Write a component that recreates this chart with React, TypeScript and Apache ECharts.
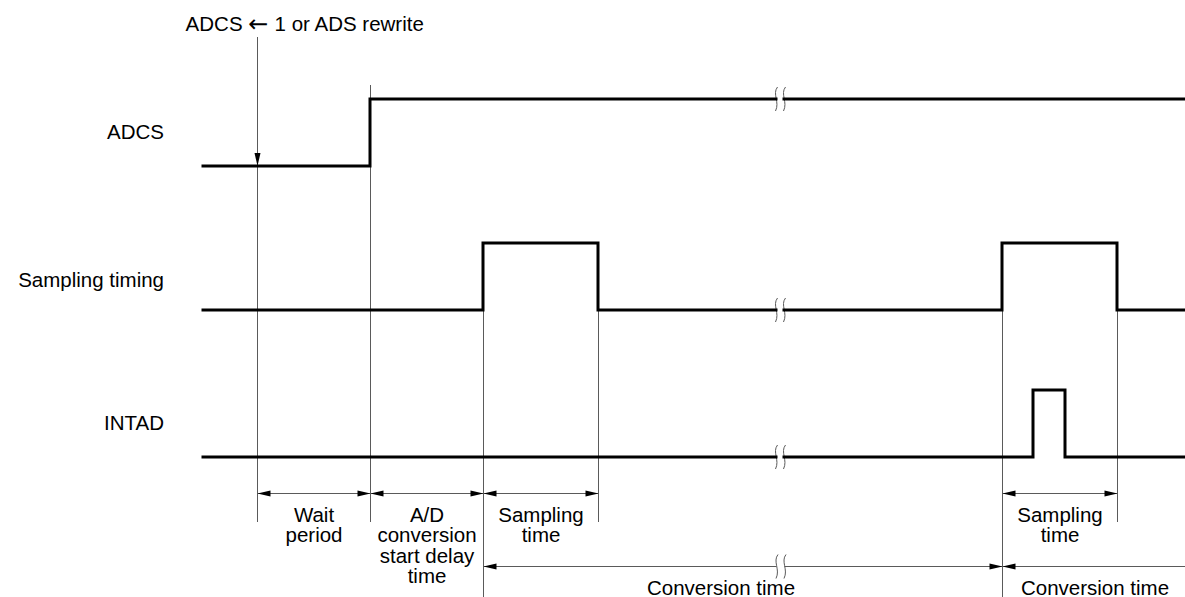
import React, { useEffect, useRef } from "react";
import * as echarts from "echarts";

// ---------- data (time units along the diagram, levels 0/1) ----------
const TIME_END = 982;
const BREAK_GAP = [573, 581];
const WRITE_TIME = 54;
const adcsEdges: number[][] = [[0, 0], [167, 1]];
const samplingEdges: number[][] = [[0, 0], [280, 1], [395, 0], [799, 1], [914, 0]];
const intadEdges: number[][] = [[0, 0], [830, 1], [862, 0]];
const signalNames = ["ADCS", "Sampling timing", "INTAD"];
const topLabelParts = ["ADCS", "\u2190", "1 or ADS rewrite"];
const waitLabel = "Wait\nperiod";
const delayLabel = "A/D\nconversion\nstart delay\ntime";
const samplingLabel = "Sampling\ntime";
const conversionLabel = "Conversion time";

// ---------- layout / style ----------
const W = 1185;
const H = 597;
const PLOT_LEFT = 203;
const ROW_TOPS = [99, 243, 390];
const ROW_H = 67;
const LABEL_RIGHT = 164;
const LABEL_Y = [131, 279, 422];
const FONT = "Liberation Sans, Arial, Helvetica, sans-serif";
const FS = 20.5;
const LH = 20.4;
const THIN = "#5a5a5a";
const ARROW_ROW_A = 493;
const ARROW_ROW_B = 566;
const TEXT_TOP_A = 504;
const TEXT_MID_B = 587;

function levelAt(edges: number[][], t: number) {
  let v = edges[0][1];
  for (const [et, ev] of edges) if (et <= t) v = ev;
  return v;
}
function toPoints(edges: number[][]) {
  const pts: number[][] = [];
  edges.forEach(([t, v], i) => {
    if (i > 0) pts.push([t, edges[i - 1][1]]);
    pts.push([t, v]);
  });
  pts.push([TIME_END, edges[edges.length - 1][1]]);
  return pts;
}
function splitAtBreak(edges: number[][]) {
  const pts = toPoints(edges);
  const a = pts.filter((p) => p[0] <= BREAK_GAP[0]);
  a.push([BREAK_GAP[0], levelAt(edges, BREAK_GAP[0])]);
  const b = [[BREAK_GAP[1], levelAt(edges, BREAK_GAP[1])]].concat(pts.filter((p) => p[0] >= BREAK_GAP[1]));
  return [a, b];
}

function breakCurve(x: number, y: number) {
  return {
    type: "bezierCurve",
    shape: { x1: x + 1.5, y1: y - 12, cpx1: x - 4, cpy1: y - 5, cpx2: x + 4, cpy2: y + 3, x2: x - 0.5, y2: y + 12 },
    style: { stroke: THIN, lineWidth: 1, fill: null },
  };
}
function head(x: number, y: number, dir: number) {
  const bx = x - dir * 13;
  return {
    type: "polygon",
    shape: { points: [[x, y], [bx, y - 3], [bx, y + 3]] },
    style: { fill: "#000" },
  };
}
function txt(x: number, y: number, text: string, va: string) {
  return {
    type: "text",
    x,
    y,
    style: {
      text,
      fill: "#000",
      fontSize: FS,
      fontFamily: FONT,
      align: "center",
      verticalAlign: va,
      textAlign: "center",
      textVerticalAlign: va,
      lineHeight: LH,
    },
  };
}

export default function App() {
  const ref = useRef<HTMLDivElement>(null);
  useEffect(() => {
    if (!ref.current) return;
    const chart = echarts.init(ref.current, null, { renderer: "svg" });
    const signals = [adcsEdges, samplingEdges, intadEdges];

    const grids = ROW_TOPS.map((top) => ({ left: PLOT_LEFT, right: 0, top, height: ROW_H }));
    const xAxes = ROW_TOPS.map((_, i) => ({ type: "value", gridIndex: i, min: 0, max: TIME_END, show: false }));
    const yAxes = ROW_TOPS.map((_, i) => ({ type: "value", gridIndex: i, min: 0, max: 1, show: false }));

    const series: any[] = [];
    signals.forEach((edges, i) => {
      splitAtBreak(edges).forEach((seg) => {
        series.push({
          type: "line",
          xAxisIndex: i,
          yAxisIndex: i,
          data: seg,
          symbol: "none",
          clip: false,
          z: 3,
          lineStyle: { color: "#000", width: 3, cap: "square", join: "miter" },
        });
      });
      series.push({
        type: "custom",
        xAxisIndex: i,
        yAxisIndex: i,
        z: 2,
        silent: true,
        clip: false,
        data: [[BREAK_GAP[0], levelAt(edges, BREAK_GAP[0]), BREAK_GAP[1]]],
        renderItem: (params: any, api: any) => {
          const p0 = api.coord([api.value(0), api.value(1)]);
          const p1 = api.coord([api.value(2), api.value(1)]);
          return { type: "group", children: [breakCurve(p0[0], p0[1]), breakCurve(p1[0], p1[1])] };
        },
      });
    });

    const adcsRise = adcsEdges[1][0];
    const s1a = samplingEdges[1][0];
    const s1b = samplingEdges[2][0];
    const s2a = samplingEdges[3][0];
    const s2b = samplingEdges[4][0];

    series.push({
      type: "custom",
      xAxisIndex: 0,
      yAxisIndex: 0,
      z: 1,
      silent: true,
      clip: false,
      data: [[0, 0]],
      renderItem: (params: any, api: any) => {
        const X = (t: number) => Math.round(api.coord([t, 0])[0]) + 0.5;
        const ch: any[] = [];
        const verticals = [
          { t: WRITE_TIME, top: 37, bottom: 522 },
          { t: adcsRise, top: 85, bottom: 522 },
          { t: s1a, top: 243, bottom: 597 },
          { t: s1b, top: 243, bottom: 522 },
          { t: s2a, top: 243, bottom: 597 },
          { t: s2b, top: 243, bottom: 522 },
        ];
        verticals.forEach((v) => {
          const x = X(v.t);
          ch.push({ type: "line", shape: { x1: x, y1: v.top, x2: x, y2: v.bottom }, style: { stroke: THIN, lineWidth: 1 } });
        });
        const xw = X(WRITE_TIME);
        const yLow = ROW_TOPS[0] + ROW_H;
        ch.push({ type: "polygon", shape: { points: [[xw, yLow], [xw - 3, yLow - 13], [xw + 3, yLow - 13]] }, style: { fill: "#000" } });

        const dims = [
          { a: WRITE_TIME, b: adcsRise, label: waitLabel },
          { a: adcsRise, b: s1a, label: delayLabel },
          { a: s1a, b: s1b, label: samplingLabel },
          { a: s2a, b: s2b, label: samplingLabel },
        ];
        dims.forEach((d) => {
          const xa = X(d.a);
          const xb = X(d.b);
          const y = ARROW_ROW_A + 0.5;
          ch.push({ type: "line", shape: { x1: xa, y1: y, x2: xb, y2: y }, style: { stroke: THIN, lineWidth: 1 } });
          ch.push(head(xa, y, -1));
          ch.push(head(xb, y, 1));
          ch.push(txt((xa + xb) / 2, TEXT_TOP_A, d.label, "top"));
        });

        const yb = ARROW_ROW_B + 0.5;
        const xa = X(s1a);
        const xb = X(s2a);
        const xg0 = X(BREAK_GAP[0]);
        const xg1 = X(BREAK_GAP[1]);
        ch.push({ type: "line", shape: { x1: xa, y1: yb, x2: xg0, y2: yb }, style: { stroke: THIN, lineWidth: 1 } });
        ch.push({ type: "line", shape: { x1: xg1, y1: yb, x2: xb, y2: yb }, style: { stroke: THIN, lineWidth: 1 } });
        ch.push(breakCurve(xg0, yb));
        ch.push(breakCurve(xg1, yb));
        ch.push(head(xa, yb, -1));
        ch.push(head(xb, yb, 1));
        ch.push(txt((xa + xb) / 2 - 22, TEXT_MID_B, conversionLabel, "middle"));

        const xe = X(TIME_END);
        ch.push({ type: "line", shape: { x1: xb, y1: yb, x2: xe, y2: yb }, style: { stroke: THIN, lineWidth: 1 } });
        ch.push(head(xb, yb, -1));
        ch.push(txt((xb + xe) / 2 + 1, TEXT_MID_B, conversionLabel, "middle"));
        return { type: "group", children: ch };
      },
    });

    const graphic: any[] = signalNames.map((name, i) => ({
      type: "text",
      x: LABEL_RIGHT,
      y: LABEL_Y[i],
      style: {
        text: name,
        fill: "#000",
        fontSize: FS,
        fontFamily: FONT,
        align: "right",
        textAlign: "right",
        verticalAlign: "middle",
        textVerticalAlign: "middle",
      },
    }));
    graphic.push({
      type: "text",
      x: 305,
      y: 23,
      style: {
        text: `${topLabelParts[0]} {arr|${topLabelParts[1]}} ${topLabelParts[2]}`,
        fill: "#000",
        fontSize: FS,
        fontFamily: FONT,
        align: "center",
        textAlign: "center",
        verticalAlign: "middle",
        textVerticalAlign: "middle",
        rich: {
          arr: { fontFamily: "DejaVu Sans", fontSize: 24, fill: "#000", padding: [2, 0, 0, 0] },
        },
      },
    });

    chart.setOption({
      animation: false,
      backgroundColor: "#fff",
      grid: grids,
      xAxis: xAxes,
      yAxis: yAxes,
      series,
      graphic,
    });
    return () => chart.dispose();
  }, []);
  return (
    <div
      ref={ref}
      style={{ position: "fixed", left: 0, top: 0, width: W, height: H, background: "#fff" }}
    />
  );
}
